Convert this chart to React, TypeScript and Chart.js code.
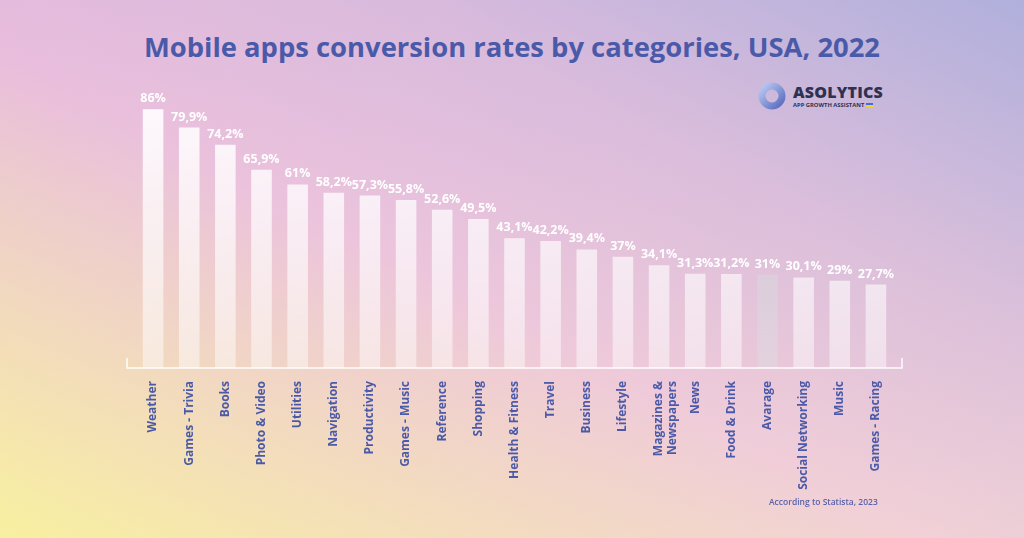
import React, { useEffect, useRef } from "react";
import { Chart, registerables } from "chart.js";
Chart.register(...registerables);

const categories: (string | string[])[] = [
  "Weather", "Games - Trivia", "Books", "Photo & Video", "Utilities", "Navigation",
  "Productivity", "Games - Music", "Reference", "Shopping", "Health & Fitness", "Travel",
  "Business", "Lifestyle", ["Magazines &", "Newspapers"], "News", "Food & Drink",
  "Avarage", "Social Networking", "Music", "Games - Racing",
];
const values = [86, 79.9, 74.2, 65.9, 61, 58.2, 57.3, 55.8, 52.6, 49.5, 43.1, 42.2, 39.4, 37, 34.1, 31.3, 31.2, 31, 30.1, 29, 27.7];
const valueLabels = ["86%", "79,9%", "74,2%", "65,9%", "61%", "58,2%", "57,3%", "55,8%", "52,6%", "49,5%", "43,1%", "42,2%", "39,4%", "37%", "34,1%", "31,3%", "31,2%", "31%", "30,1%", "29%", "27,7%"];
const highlightCategory = "Avarage";

const TEXT_BLUE = "#4b5aa8";
const FONT = "'Open Sans', sans-serif";

const labelPlugin = {
  id: "valueLabels",
  afterDatasetsDraw(chart: any) {
    const ctx = chart.ctx;
    const meta = chart.getDatasetMeta(0);
    ctx.save();
    ctx.fillStyle = "#ffffff";
    ctx.font = `bold 12.5px ${FONT}`;
    ctx.textAlign = "center";
    ctx.textBaseline = "alphabetic";
    meta.data.forEach((bar: any, i: number) => {
      ctx.fillText(valueLabels[i], bar.x, bar.y - 7);
    });
    ctx.restore();
  },
};

const axisPlugin = {
  id: "axisLine",
  afterDatasetsDraw(chart: any) {
    const ctx = chart.ctx;
    const { left, right, bottom } = chart.chartArea;
    const x0 = left - 8;
    const x1 = right + 8;
    ctx.save();
    ctx.strokeStyle = "rgba(255,255,255,0.95)";
    ctx.lineWidth = 1.5;
    ctx.beginPath();
    ctx.moveTo(x0, bottom - 10);
    ctx.lineTo(x0, bottom);
    ctx.lineTo(x1, bottom);
    ctx.lineTo(x1, bottom - 10);
    ctx.stroke();
    ctx.restore();
  },
};

export default function App() {
  const ref = useRef<HTMLCanvasElement>(null);
  useEffect(() => {
    if (!ref.current) return;
    const chart = new Chart(ref.current, {
      type: "bar",
      data: {
        labels: categories,
        datasets: [
          {
            data: values,
            backgroundColor: (c: any) => {
              const ch = c.chart;
              const area = ch.chartArea;
              const isAvg = categories[c.dataIndex] === highlightCategory;
              if (!area) return isAvg ? "rgba(205,200,210,0.8)" : "rgba(255,255,255,0.8)";
              const g = ch.ctx.createLinearGradient(0, area.top, 0, area.bottom);
              if (isAvg) {
                g.addColorStop(0, "rgba(200,200,205,0.9)");
                g.addColorStop(1, "rgba(225,215,225,0.6)");
              } else {
                g.addColorStop(0, "rgba(255,255,255,0.97)");
                g.addColorStop(1, "rgba(255,255,255,0.45)");
              }
              return g;
            },
            borderWidth: 0,
            barPercentage: 0.57,
            categoryPercentage: 1,
          },
        ],
      },
      options: {
        animation: false,
        responsive: false,
        maintainAspectRatio: false,
        layout: { padding: { left: 135, right: 130, top: 67, bottom: 0 } },
        plugins: { legend: { display: false }, tooltip: { enabled: false } },
        scales: {
          x: {
            grid: { display: false },
            border: { display: false },
            afterFit: (scale: any) => {
              scale.height = 170;
            },
            ticks: {
              minRotation: 90,
              maxRotation: 90,
              autoSkip: false,
              padding: 5,
              color: TEXT_BLUE,
              font: { family: FONT, size: 12, weight: "bold", lineHeight: 1.1 },
            },
          },
          y: {
            display: false,
            min: 0,
            max: 100,
          },
        },
      },
      plugins: [labelPlugin, axisPlugin],
    });
    return () => chart.destroy();
  }, []);

  return (
    <div
      style={{
        position: "fixed",
        left: 0,
        top: 0,
        width: 1024,
        height: 538,
        overflow: "hidden",
        fontFamily: FONT,
        background:
          "linear-gradient(to top right, #f8f0a0 0%, rgba(246,226,200,0.0) 45%), linear-gradient(to bottom right, #e8bcdc 0%, #ecc4dc 40%, #f2d2d6 100%), #eec8d8",
      }}
    >
      <div
        style={{
          position: "absolute",
          inset: 0,
          background: "linear-gradient(to bottom left, rgba(176,176,220,1) 0%, rgba(200,180,220,0.5) 30%, rgba(230,190,220,0) 55%)",
        }}
      />
      <div
        style={{
          position: "absolute",
          left: 0,
          width: 1024,
          top: 28,
          textAlign: "center",
          fontSize: 27.4,
          fontWeight: 700,
          color: TEXT_BLUE,
        }}
      >
        Mobile apps conversion rates by categories, USA, 2022
      </div>
      <div style={{ position: "absolute", left: 758, top: 82, width: 130, height: 30 }}>
        <svg width="28" height="28" viewBox="0 0 28 28" style={{ position: "absolute", left: 0, top: 0 }}>
          <defs>
            <linearGradient id="lg" x1="0" y1="0" x2="1" y2="1">
              <stop offset="0" stopColor="#b8c8f0" />
              <stop offset="1" stopColor="#5a6cc0" />
            </linearGradient>
          </defs>
          <circle cx="14" cy="14" r="10" fill="none" stroke="url(#lg)" strokeWidth="7" />
        </svg>
        <div style={{ position: "absolute", left: 35, top: -1, fontSize: 16, fontWeight: 800, color: "#2e3250", letterSpacing: 0.2 }}>
          ASOLYTICS
        </div>
        <div style={{ position: "absolute", left: 35, top: 19, fontSize: 5.8, fontWeight: 700, color: "#2e3250", whiteSpace: "nowrap" }}>
          APP GROWTH ASSISTANT
          <span style={{ display: "inline-block", width: 7, height: 4, marginLeft: 2, verticalAlign: "middle", background: "linear-gradient(#3c6ee0 50%, #f2d32a 50%)" }} />
        </div>
      </div>
      <canvas ref={ref} width={1024} height={538} style={{ position: "absolute", left: 0, top: 0 }} />
      <div style={{ position: "absolute", left: 769, top: 496, fontSize: 8.5, fontWeight: 600, color: "#5a62a8" }}>
        According to Statista, 2023
      </div>
    </div>
  );
}
